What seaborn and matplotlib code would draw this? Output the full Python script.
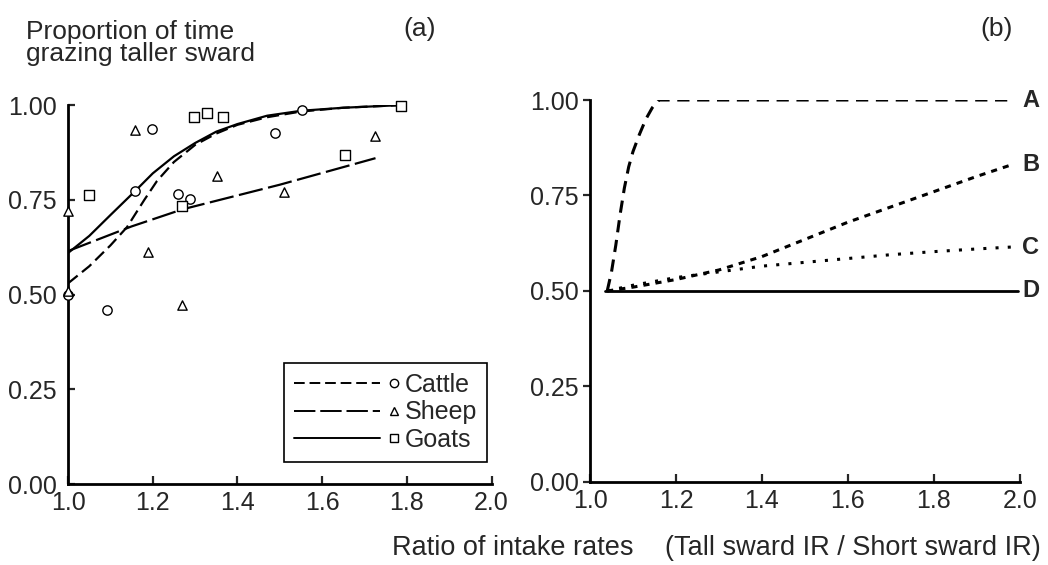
import numpy as np
import pandas as pd
import seaborn as sns
import matplotlib.pyplot as plt
from matplotlib.lines import Line2D
from matplotlib.legend_handler import HandlerBase

# ---- panel (a): observed proportions ----
cattle_x = [1.0, 1.092, 1.158, 1.199, 1.26, 1.288, 1.489, 1.553]
cattle_y = [0.50, 0.459, 0.773, 0.936, 0.765, 0.752, 0.926, 0.987]
sheep_x = [1.0, 1.0, 1.158, 1.188, 1.27, 1.352, 1.51, 1.724]
sheep_y = [0.51, 0.72, 0.934, 0.613, 0.472, 0.813, 0.771, 0.918]
goats_x = [1.05, 1.27, 1.298, 1.329, 1.366, 1.653, 1.787]
goats_y = [0.763, 0.733, 0.968, 0.979, 0.968, 0.868, 0.998]

# fitted curves, panel (a)
cattle_fit_x = [1.0, 1.05, 1.1, 1.139, 1.18, 1.21, 1.25, 1.3, 1.35, 1.4, 1.47, 1.55, 1.65, 1.787]
cattle_fit_y = [0.53, 0.575, 0.63, 0.678, 0.75, 0.80, 0.85, 0.895, 0.925, 0.948, 0.968, 0.983, 0.993, 1.0]
sheep_fit_x = [1.0, 1.15, 1.27, 1.5, 1.726]
sheep_fit_y = [0.615, 0.68, 0.725, 0.79, 0.86]
goats_fit_x = [1.0, 1.05, 1.1, 1.158, 1.2, 1.25, 1.3, 1.35, 1.4, 1.47, 1.55, 1.65, 1.787]
goats_fit_y = [0.61, 0.655, 0.71, 0.773, 0.82, 0.865, 0.90, 0.93, 0.95, 0.972, 0.985, 0.993, 1.0]

# ---- panel (b): model predictions ----
a_x = [1.04, 1.05, 1.06, 1.07, 1.08, 1.09, 1.10, 1.115, 1.13, 1.145, 1.16, 1.98]
a_y = [0.50, 0.55, 0.62, 0.70, 0.77, 0.825, 0.865, 0.91, 0.95, 0.98, 1.0, 1.0]
bc_x = [1.04, 1.1, 1.2, 1.3, 1.4, 1.5, 1.6, 1.7, 1.8, 1.9, 1.98]
b_y = [0.50, 0.51, 0.53, 0.555, 0.59, 0.635, 0.68, 0.72, 0.76, 0.80, 0.83]
c_y = [0.50, 0.515, 0.535, 0.55, 0.565, 0.575, 0.585, 0.595, 0.603, 0.61, 0.615]
d_x = [1.035, 1.995]
d_y = [0.50, 0.50]

ticks_x = [1.0, 1.2, 1.4, 1.6, 1.8, 2.0]
ticks_y = [0.0, 0.25, 0.5, 0.75, 1.0]

sns.set_theme(style="white")
plt.rcParams['font.family'] = ['Liberation Sans', 'DejaVu Sans']
plt.rcParams['axes.linewidth'] = 2.0

fig = plt.figure(figsize=(10.48, 5.65), dpi=100)
ax1 = fig.add_axes([0.065, 0.143, 0.404, 0.671])
ax2 = fig.add_axes([0.563, 0.147, 0.41, 0.676])

species = [
    ("Cattle", cattle_x, cattle_y, cattle_fit_x, cattle_fit_y, "o", (0, (5.5, 2.5))),
    ("Sheep", sheep_x, sheep_y, sheep_fit_x, sheep_fit_y, "^", (0, (11, 2.5))),
    ("Goats", goats_x, goats_y, goats_fit_x, goats_fit_y, "s", "-"),
]

for name, px, py, fx, fy, mk, ls in species:
    sns.lineplot(x=fx, y=fy, ax=ax1, color="black", lw=1.6, linestyle=ls, sort=False)
    sns.scatterplot(x=px, y=py, ax=ax1, marker=mk, s=45, facecolor="white",
                    edgecolor="black", linewidth=1.0, clip_on=False, zorder=3)


class LineMarkerHandler(HandlerBase):
    # dashed line with the open marker sitting at its right end
    def create_artists(self, legend, orig_handle, xdescent, ydescent,
                       width, height, fontsize, trans):
        y = height / 2 - ydescent
        line = Line2D([-xdescent, -xdescent + width * 0.8], [y, y])
        line.update_from(orig_handle)
        line.set_marker("None")
        mark = Line2D([-xdescent + width * 0.93], [y], marker=orig_handle.get_marker(),
                      markersize=6, markerfacecolor="white", markeredgecolor="black",
                      markeredgewidth=1.0, linestyle="none")
        line.set_transform(trans)
        mark.set_transform(trans)
        return [line, mark]


handles = [Line2D([], [], color="black", lw=1.4, linestyle=ls, marker=mk)
           for _, _, _, _, _, mk, ls in species]
leg = ax1.legend(handles, [s[0] for s in species], handler_map={Line2D: LineMarkerHandler()},
                 loc="lower right", bbox_to_anchor=(0.99, 0.058), fontsize=18,
                 handlelength=4.3, handletextpad=0.15, labelspacing=0.15,
                 borderpad=0.4, borderaxespad=0, fancybox=False, framealpha=1,
                 edgecolor="black")
leg.get_frame().set_linewidth(1.2)

# panel (b)
sns.lineplot(x=a_x, y=a_y, ax=ax2, color="black", lw=2.2, linestyle=(0, (4, 2.5)), sort=False)
sns.lineplot(x=bc_x, y=b_y, ax=ax2, color="black", lw=2.2, linestyle=(0, (2, 2)), sort=False)
sns.lineplot(x=bc_x, y=c_y, ax=ax2, color="black", lw=2.2, linestyle=(0, (1, 3)), sort=False)
sns.lineplot(x=d_x, y=d_y, ax=ax2, color="black", lw=2.0, linestyle="-", sort=False)
for lab, yy in zip(["A", "B", "C", "D"], [a_y[-1], b_y[-1], c_y[-1], d_y[-1]]):
    ax2.text(2.006, yy, lab, fontsize=17, fontweight="bold", va="center", ha="left",
             clip_on=False)

for ax, ydir, ypad in [(ax1, "in", 8), (ax2, "out", 3)]:
    ax.set_xlim(1.0, 2.0)
    ax.set_ylim(0.0, 1.0)
    ax.set_xticks(ticks_x)
    ax.set_xticklabels(["%.1f" % t for t in ticks_x])
    ax.set_yticks(ticks_y)
    ax.set_yticklabels(["%.2f" % t for t in ticks_y])
    ax.tick_params(axis="x", direction="in", length=6, width=1.6, labelsize=18, pad=5)
    ax.tick_params(axis="y", direction=ydir, length=5, width=1.6, labelsize=18, pad=ypad)
    ax.tick_params(left=True, bottom=True)
    sns.despine(ax=ax)
    for sp in ["left", "bottom"]:
        ax.spines[sp].set_color("black")
    ax.set_xlabel("")
    ax.set_ylabel("")

fig.text(26 / 1048, 1 - 20 / 565, "Proportion of time\ngrazing taller sward",
         fontsize=19, ha="left", va="top", linespacing=0.9)
fig.text(420 / 1048, 1 - 29 / 565, "(a)", fontsize=19, ha="center", va="center")
fig.text(997 / 1048, 1 - 29 / 565, "(b)", fontsize=19, ha="center", va="center")
fig.text(392 / 1048, 1 - 548 / 565, "Ratio of intake rates", fontsize=19.5, ha="left", va="center")
fig.text(665 / 1048, 1 - 548 / 565, "(Tall sward IR / Short sward IR)", fontsize=19.5,
         ha="left", va="center")

fig.savefig("out.png", dpi=100, facecolor="white")
